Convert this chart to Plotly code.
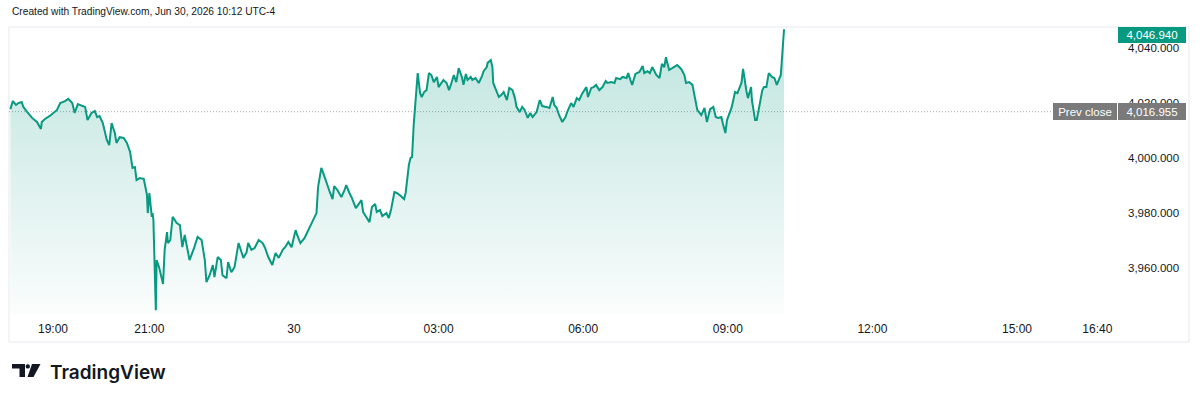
import pandas as pd
import plotly.graph_objects as go

# ---------------- data ----------------
session_open = "2026-06-29 18:00"
minutes = [
    7, 10, 14, 17, 21, 23, 28, 34, 40, 45, 46, 50, 56, 60, 65, 69, 75, 79, 84, 87,
    91, 97, 100, 103, 108, 112, 115, 118, 122, 127, 130, 133, 137, 139, 143, 148, 152, 156, 159, 162,
    164, 168, 173, 177, 178, 180, 183, 184, 185, 188, 189, 192, 197, 199, 202, 203, 206, 209, 214, 218,
    221, 224, 226, 230, 236, 240, 245, 249, 251, 255, 259, 261, 265, 269, 271, 276, 278, 282, 286, 291,
    295, 297, 301, 303, 307, 311, 316, 321, 324, 328, 333, 337, 341, 346, 349, 353, 357, 362, 364, 368,
    373, 378, 383, 388, 390, 394, 396, 400, 405, 408, 410, 414, 419, 423, 425, 429, 432, 437, 440, 444,
    446, 450, 454, 457, 461, 463, 467, 470, 475, 478, 481, 485, 488, 493, 497, 499, 503, 505, 507, 509,
    512, 514, 517, 519, 522, 525, 528, 531, 534, 538, 540, 544, 546, 550, 553, 556, 559, 562, 565, 569,
    571, 574, 576, 580, 582, 586, 590, 594, 596, 600, 601, 605, 607, 608, 612, 615, 618, 621, 625, 628,
    632, 635, 637, 641, 644, 647, 651, 654, 657, 662, 666, 669, 674, 678, 682, 684, 687, 690, 694, 698,
    700, 705, 708, 712, 715, 719, 724, 726, 730, 733, 736, 740, 744, 748, 750, 755, 759, 761, 766, 769,
    774, 776, 780, 781, 785, 790, 794, 796, 800, 803, 806, 811, 815, 818, 821, 823, 827, 831, 835, 837,
    842, 846, 848, 852, 856, 859, 862, 867, 871, 874, 878, 882, 885, 888, 892, 894, 897, 899, 902, 905,
    909, 912, 917, 919, 923, 925, 929, 930, 934, 936, 940, 943, 945, 948, 951, 955, 958, 961, 966, 968,
    970,
]
prices = [
    4017.9, 4020.8, 4019.4, 4020.1, 4020.5, 4018.7, 4016.8, 4014.7, 4013.2, 4010.7,
    4013.2, 4014.3, 4015.4, 4016.5, 4017.6, 4020.1, 4020.8, 4021.6, 4020.1, 4016.5,
    4019.7, 4019.0, 4018.7, 4013.9, 4016.5, 4017.2, 4015.0, 4015.4, 4012.8, 4006.7,
    4004.8, 4012.8, 4009.2, 4005.6, 4007.7, 4007.4, 4005.6, 4002.3, 3996.5, 3996.8,
    3992.1, 3992.8, 3992.5, 3986.7, 3980.1, 3987.4, 3978.7, 3980.1, 3977.6, 3944.8,
    3963.0, 3960.5, 3954.3, 3966.7, 3973.2, 3969.2, 3970.3, 3978.7, 3976.5, 3975.7,
    3967.7, 3972.1, 3968.5, 3963.0, 3967.7, 3971.4, 3970.3, 3963.0, 3955.0, 3957.5,
    3961.2, 3956.8, 3964.1, 3963.0, 3957.5, 3956.4, 3962.3, 3958.6, 3960.5, 3969.2,
    3965.6, 3963.8, 3965.9, 3969.2, 3966.7, 3967.4, 3970.3, 3969.2, 3967.4, 3964.1,
    3961.2, 3965.6, 3963.8, 3966.7, 3967.7, 3969.6, 3967.7, 3973.9, 3972.1, 3969.2,
    3971.0, 3973.9, 3976.8, 3980.1, 3989.6, 3996.5, 3995.0, 3991.4, 3987.4, 3985.2,
    3989.9, 3988.5, 3985.9, 3988.5, 3990.3, 3987.4, 3985.6, 3981.9, 3983.0, 3984.8,
    3980.5, 3978.7, 3976.8, 3982.3, 3983.4, 3980.5, 3981.2, 3979.0, 3980.1, 3978.3,
    3981.6, 3987.7, 3987.4, 3986.3, 3985.2, 3987.4, 3997.6, 4000.1, 4000.5, 4012.1,
    4023.7, 4031.0, 4023.7, 4022.3, 4024.1, 4024.8, 4031.0, 4030.3, 4027.7, 4029.6,
    4025.9, 4027.4, 4028.5, 4027.4, 4024.8, 4027.4, 4030.3, 4027.7, 4032.8, 4029.6,
    4026.7, 4030.7, 4028.5, 4029.6, 4028.5, 4029.2, 4027.4, 4029.9, 4031.7, 4033.2,
    4034.7, 4035.7, 4033.2, 4027.4, 4024.1, 4022.3, 4023.0, 4024.1, 4021.2, 4025.6,
    4024.8, 4021.9, 4018.7, 4016.8, 4018.7, 4017.6, 4014.7, 4016.5, 4015.0, 4016.8,
    4021.2, 4019.0, 4018.7, 4018.3, 4022.3, 4019.4, 4018.3, 4015.7, 4013.2, 4015.0,
    4016.8, 4020.1, 4018.7, 4021.9, 4021.2, 4023.7, 4025.9, 4022.3, 4025.6, 4025.9,
    4026.7, 4024.8, 4025.9, 4028.1, 4027.4, 4027.7, 4027.4, 4029.2, 4028.8, 4029.6,
    4029.2, 4031.0, 4027.4, 4026.7, 4030.7, 4031.4, 4033.6, 4031.0, 4031.7, 4031.0,
    4033.2, 4030.3, 4029.2, 4034.3, 4033.2, 4036.8, 4032.1, 4032.8, 4033.6, 4033.9,
    4032.5, 4030.3, 4027.4, 4027.7, 4026.7, 4022.3, 4017.6, 4015.7, 4018.3, 4013.2,
    4017.9, 4018.7, 4015.0, 4014.7, 4015.0, 4012.5, 4009.2, 4013.9, 4016.5, 4018.7,
    4024.1, 4023.7, 4027.4, 4032.5, 4024.8, 4021.9, 4025.9, 4021.2, 4013.9, 4013.9,
    4020.1, 4024.8, 4025.9, 4025.9, 4031.0, 4029.6, 4029.2, 4026.7, 4030.3, 4039.4,
    4046.94,
]
prev_close = 4016.955
last_price = 4046.94

y_tick_values = [3960, 3980, 4000, 4020, 4040]
y_tick_labels = ["3,960.000", "3,980.000", "4,000.000", "4,020.000", "4,040.000"]
x_tick_values = ["2026-06-29 19:00", "2026-06-29 21:00", "2026-06-30 00:00", "2026-06-30 03:00",
                 "2026-06-30 06:00", "2026-06-30 09:00", "2026-06-30 12:00", "2026-06-30 15:00",
                 "2026-06-30 16:40"]
x_tick_labels = ["19:00", "21:00", "30", "03:00", "06:00", "09:00", "12:00", "15:00", "16:40"]
x_range = ["2026-06-29 18:05:15", "2026-06-30 16:59:30"]
y_range = [3943.4, 4047.75]

title_text = "Created with TradingView.com, Jun 30, 2026 10:12 UTC-4"
brand_text = "TradingView"

# ---------------- figure ----------------
W, H = 1200, 401
L, R, T, B = 9, 1113, 27, 314
GREEN = "#089981"
INK = "#131722"
FONT = "Liberation Sans"


def pxx(x):
    return (x - L) / (R - L)


def pxy(y):
    return (B - y) / (B - T)


times = pd.Timestamp(session_open) + pd.to_timedelta(minutes, unit="m")

fig = go.Figure()
fig.add_trace(go.Scatter(
    x=times, y=prices, mode="lines",
    line=dict(color=GREEN, width=2),
    fill="tozeroy",
    fillgradient=dict(type="vertical",
                      colorscale=[[0, "rgba(8,153,129,0.02)"], [1, "rgba(8,153,129,0.26)"]],
                      start=y_range[0], stop=y_range[1]),
    hoverinfo="skip",
))

fig.update_layout(
    width=W, height=H,
    margin=dict(l=L, r=W - R, t=T, b=H - B, pad=0),
    paper_bgcolor="white", plot_bgcolor="white",
    showlegend=False,
    xaxis=dict(type="date", range=x_range, tickvals=x_tick_values, ticktext=x_tick_labels,
               showgrid=False, zeroline=False, showline=False, ticks="",
               tickfont=dict(family=FONT, size=12, color=INK), ticklabelstandoff=6),
    yaxis=dict(side="right", range=y_range, tickvals=y_tick_values, ticktext=y_tick_labels,
               showgrid=False, zeroline=False, showline=False, ticks="",
               tickfont=dict(family=FONT, size=11.5, color=INK), ticklabelstandoff=14),
)

shapes = [
    # outer frame
    dict(type="rect", xref="paper", yref="paper", x0=pxx(9), x1=pxx(1189), y0=pxy(27), y1=pxy(342),
         line=dict(color="#e6e9ef", width=1), fillcolor="rgba(0,0,0,0)", layer="below"),
    # prev close dotted line
    dict(type="line", xref="paper", yref="y", x0=0, x1=pxx(1053), y0=prev_close, y1=prev_close,
         line=dict(color="#a3a6af", width=1, dash="1px,2px"), layer="below"),
    # logo: T part
    dict(type="path", xref="paper", yref="paper", fillcolor=INK, line=dict(width=0),
         path="M {} {} L {} {} L {} {} L {} {} L {} {} L {} {} Z".format(
             pxx(12), pxy(364), pxx(25), pxy(364), pxx(25), pxy(377),
             pxx(19.5), pxy(377), pxx(19.5), pxy(368.5), pxx(12), pxy(368.5))),
    # logo: dot
    dict(type="circle", xref="paper", yref="paper", fillcolor=INK, line=dict(width=0),
         x0=pxx(25.6), x1=pxx(30.0), y0=pxy(368.6), y1=pxy(364.2)),
    # logo: slash
    dict(type="path", xref="paper", yref="paper", fillcolor=INK, line=dict(width=0),
         path="M {} {} L {} {} L {} {} L {} {} Z".format(
             pxx(32), pxy(364), pxx(40.5), pxy(364), pxx(33.5), pxy(377), pxx(27.5), pxy(377))),
]
fig.update_layout(shapes=shapes)

annotations = [
    dict(xref="paper", yref="paper", x=pxx(10), y=pxy(12), xanchor="left", yanchor="middle",
         text=title_text, showarrow=False,
         font=dict(family=FONT, size=10.2, color=INK)),
    dict(xref="paper", yref="paper", x=pxx(48), y=pxy(372), xanchor="left", yanchor="middle",
         text=brand_text, showarrow=False,
         font=dict(family="Inter", size=19, color=INK, weight=600)),
    dict(xref="paper", yref="paper", x=pxx(1152), y=pxy(35), xanchor="center", yanchor="middle",
         text=f"{last_price:,.3f}", showarrow=False, bgcolor=GREEN, borderpad=0, borderwidth=0,
         width=68, height=16, align="center",
         font=dict(family=FONT, size=11.5, color="white")),
    dict(xref="paper", yref="y", x=pxx(1085), y=prev_close, xanchor="center", yanchor="middle",
         text="Prev close", showarrow=False, bgcolor="#7a7a7a", borderpad=0, borderwidth=0,
         width=64, height=17, align="center",
         font=dict(family=FONT, size=11.5, color="white")),
    dict(xref="paper", yref="y", x=pxx(1152), y=prev_close, xanchor="center", yanchor="middle",
         text=f"{prev_close:,.3f}", showarrow=False, bgcolor="#7a7a7a", borderpad=0, borderwidth=0,
         width=68, height=17, align="center",
         font=dict(family=FONT, size=11.5, color="white")),
]
fig.update_layout(annotations=annotations)

fig.write_html("out.html")
